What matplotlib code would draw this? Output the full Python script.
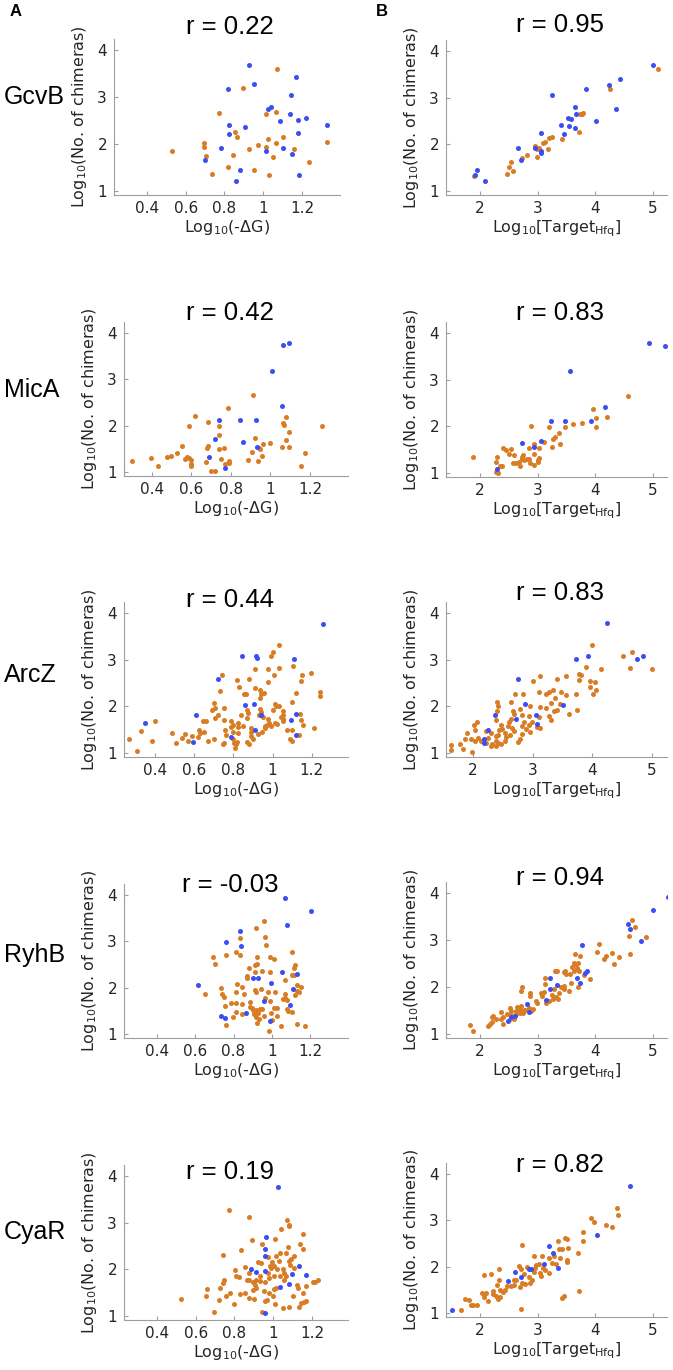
import numpy as np
import matplotlib
matplotlib.use('Agg')
import matplotlib.pyplot as plt

# ---- data ----
srnas = ['GcvB', 'MicA', 'ArcZ', 'RyhB', 'CyaR']
r_dg = ['0.22', '0.42', '0.44', '-0.03', '0.19']
r_hfq = ['0.95', '0.83', '0.83', '0.94', '0.82']

dg_ticks = [0.4, 0.6, 0.8, 1.0, 1.2]
dg_ticklabels = ['0.4', '0.6', '0.8', '1', '1.2']
hfq_ticks = [2, 3, 4, 5]
y_ticks = [1, 2, 3, 4]

gcvb_dg_blue = [(0.925, 3.69), (0.951, 3.27), (0.818, 3.18), (1.169, 3.43), (1.145, 3.05), (1.025, 2.75),
                (1.039, 2.79), (1.137, 2.64), (1.085, 2.50), (1.18, 2.52), (1.223, 2.56), (1.329, 2.40),
                (0.823, 2.41), (0.823, 2.21), (0.908, 2.36), (1.18, 2.23), (0.78, 1.91), (1.016, 1.84),
                (1.102, 1.91), (1.149, 1.79), (0.701, 1.66), (0.882, 1.45), (0.858, 1.20), (1.187, 1.33)]
gcvb_dg_orange = [(1.07, 3.61), (0.897, 3.19), (0.772, 2.66), (1.016, 2.64), (1.064, 2.68), (0.854, 2.26),
                  (0.866, 2.14), (1.104, 2.15), (1.025, 2.11), (1.066, 2.03), (1.329, 2.04), (0.696, 2.01),
                  (0.696, 1.93), (0.925, 1.89), (0.973, 1.97), (1.014, 1.94), (1.161, 1.90), (0.531, 1.84),
                  (0.842, 1.77), (1.049, 1.72), (0.705, 1.74), (1.235, 1.61), (0.817, 1.51), (0.951, 1.44),
                  (0.737, 1.36), (1.030, 1.33)]
gcvb_hfq_blue = [(4.99, 3.70), (4.42, 3.41), (4.24, 3.27), (3.83, 3.18), (4.36, 2.75), (3.24, 3.05),
                 (3.64, 2.79), (3.52, 2.56), (3.58, 2.54), (3.66, 2.64), (3.41, 2.42), (3.54, 2.40),
                 (3.65, 2.36), (4.01, 2.50), (3.06, 2.24), (3.46, 2.22), (2.65, 1.91), (2.96, 1.91),
                 (3.06, 1.81), (3.06, 1.86), (2.71, 1.67), (1.95, 1.45), (1.91, 1.34), (2.08, 1.21)]
gcvb_hfq_orange = [(5.08, 3.61), (4.25, 3.19), (3.72, 2.27), (3.73, 2.65), (3.76, 2.66), (3.79, 2.68),
                   (3.25, 2.15), (3.20, 2.14), (3.42, 2.11), (3.13, 2.04), (3.09, 2.02), (2.95, 1.97),
                   (3.03, 1.93), (2.99, 1.89), (3.17, 1.89), (2.99, 1.73), (2.81, 1.78), (2.73, 1.71),
                   (2.54, 1.61), (2.51, 1.51), (2.57, 1.43), (2.46, 1.36), (1.89, 1.32)]

mica_dg_blue = [(1.095, 3.78), (1.062, 3.74), (1.008, 3.19), (1.06, 2.42), (0.740, 2.12), (0.846, 2.12),
                (0.927, 2.13), (0.718, 1.70), (0.860, 1.65), (0.930, 1.54), (0.691, 1.32), (0.769, 1.09)]
mica_dg_orange = [(0.913, 2.66), (0.784, 2.39), (0.619, 2.20), (0.686, 2.08), (0.742, 1.99), (0.590, 1.99),
                  (1.077, 2.19), (1.062, 2.06), (1.07, 2.02), (1.26, 2.00), (1.092, 1.86), (0.920, 1.73),
                  (0.742, 1.79), (0.998, 1.62), (0.961, 1.60), (1.077, 1.68), (1.092, 1.54), (0.945, 1.50),
                  (0.942, 1.52), (0.686, 1.55), (0.678, 1.51), (0.767, 1.52), (0.738, 1.50), (0.553, 1.55),
                  (0.528, 1.40), (0.499, 1.35), (0.479, 1.32), (0.397, 1.29), (0.578, 1.33), (0.568, 1.27),
                  (0.589, 1.29), (0.600, 1.25), (0.597, 1.18), (0.599, 1.13), (0.299, 1.24), (0.434, 1.13),
                  (0.674, 1.21), (0.750, 1.27), (0.771, 1.17), (0.792, 1.23), (0.789, 1.19), (0.887, 1.26),
                  (0.907, 1.42), (0.935, 1.23), (0.957, 1.34), (1.057, 1.54), (0.698, 1.01), (0.720, 1.01),
                  (1.152, 1.13), (1.176, 1.40)]
mica_hfq_blue = [(4.92, 3.78), (5.21, 3.73), (3.56, 3.18), (4.16, 2.42), (3.23, 2.11), (3.47, 2.12),
                 (3.92, 2.11), (2.73, 1.64), (3.05, 1.68), (2.93, 1.56), (2.29, 1.09)]
mica_hfq_orange = [(4.57, 2.65), (3.96, 2.38), (4.01, 2.18), (4.20, 2.20), (4.01, 1.99), (3.77, 2.08),
                   (3.61, 2.05), (3.47, 1.98), (3.19, 1.98), (2.89, 2.01), (3.37, 1.86), (3.30, 1.78),
                   (3.27, 1.73), (3.39, 1.61), (3.24, 1.55), (3.10, 1.67), (3.02, 1.54), (2.94, 1.61),
                   (2.85, 1.53), (1.88, 1.34), (2.40, 1.53), (2.45, 1.50), (2.53, 1.51), (2.51, 1.40),
                   (2.59, 1.38), (2.29, 1.34), (2.28, 1.24), (2.38, 1.15), (2.34, 1.14), (2.31, 1.00),
                   (2.27, 1.01), (2.57, 1.21), (2.63, 1.21), (2.68, 1.24), (2.73, 1.34), (2.74, 1.39),
                   (2.77, 1.28), (2.70, 1.14), (2.72, 1.29), (2.81, 1.29), (2.87, 1.22), (2.84, 1.29),
                   (2.93, 1.17), (3.01, 1.27), (3.03, 1.32), (3.00, 1.24), (2.93, 1.41)]

arcz_dg_blue = [(1.256, 3.77), (0.846, 3.09), (0.917, 3.08), (0.919, 3.03), (1.111, 3.01), (0.720, 2.59),
                (0.860, 2.03), (0.907, 2.05), (0.941, 1.81), (1.120, 1.83), (1.094, 1.71), (0.611, 1.82),
                (0.351, 1.63), (0.912, 1.50), (1.118, 1.39), (0.790, 1.33), (0.596, 1.23)]
arcz_dg_orange = [(1.035, 3.32), (1.001, 3.17), (0.991, 3.08), (1.035, 2.83), (0.977, 2.81), (0.911, 2.79),
                  (1.106, 2.86), (1.009, 2.67), (1.195, 2.72), (1.151, 2.67), (1.144, 2.55), (0.882, 2.59),
                  (0.817, 2.56), (0.744, 2.68), (0.734, 2.32), (0.831, 2.41), (0.866, 2.26), (0.856, 2.27),
                  (0.911, 2.40), (0.936, 2.35), (0.940, 2.27), (0.936, 2.18), (0.958, 2.28), (0.975, 2.52),
                  (1.241, 2.31), (1.243, 2.21), (1.118, 2.28), (1.101, 2.10), (1.013, 2.05), (1.020, 2.00),
                  (1.033, 2.01), (1.052, 1.90), (1.052, 1.81), (1.042, 1.77), (1.055, 1.72), (1.054, 1.68),
                  (1.140, 1.84), (1.147, 1.70), (1.072, 1.50), (1.021, 1.62), (1.013, 1.64), (0.970, 1.60),
                  (0.962, 1.58), (0.936, 1.95), (0.941, 1.88), (0.931, 1.81), (0.868, 1.92), (0.875, 1.85),
                  (0.871, 1.74), (0.851, 1.57), (0.826, 1.55), (0.822, 1.65), (0.837, 1.82), (0.752, 1.96),
                  (0.701, 2.06), (0.706, 1.97), (0.693, 1.93), (0.722, 1.82), (0.659, 1.68), (0.647, 1.69),
                  (0.706, 1.75), (0.752, 1.70), (0.786, 1.69), (0.800, 1.60), (0.788, 1.55), (0.756, 1.50),
                  (0.800, 1.44), (0.822, 1.43), (0.761, 1.39), (0.798, 1.30), (0.820, 1.23), (0.803, 1.21),
                  (0.754, 1.21), (0.746, 1.18), (0.701, 1.30), (0.672, 1.26), (0.650, 1.44), (0.630, 1.43),
                  (0.626, 1.49), (0.621, 1.35), (0.589, 1.36), (0.570, 1.26), (0.553, 1.40), (0.538, 1.31),
                  (0.507, 1.22), (0.489, 1.43), (0.400, 1.68), (0.329, 1.46), (0.383, 1.26), (0.267, 1.30),
                  (0.310, 1.03), (0.809, 1.11), (0.814, 1.18), (0.868, 1.23), (0.882, 1.18), (0.889, 1.36),
                  (0.890, 1.44), (0.892, 1.54), (0.902, 1.30), (0.924, 1.41), (0.946, 1.45), (0.962, 1.53),
                  (0.982, 1.63), (0.992, 1.58), (0.950, 1.78), (0.979, 1.72), (1.089, 1.30), (1.098, 1.25),
                  (1.137, 1.38), (1.212, 1.54), (1.098, 1.50), (1.001, 1.92), (1.157, 1.60)]
arcz_hfq_blue = [(4.25, 3.78), (3.73, 3.01), (3.92, 3.09), (4.74, 3.02), (4.84, 3.07), (2.76, 2.59),
                 (3.50, 2.02), (2.87, 2.04), (2.37, 1.81), (3.06, 1.81), (3.08, 1.62), (2.72, 1.72),
                 (2.25, 1.49), (2.18, 1.30), (2.18, 1.21)]
arcz_hfq_orange = [(3.99, 3.32), (4.51, 3.09), (4.66, 3.16), (4.63, 2.82), (5.00, 2.81), (4.15, 2.79),
                   (3.89, 2.85), (3.78, 2.70), (3.81, 2.68), (3.77, 2.57), (3.96, 2.55), (4.05, 2.52),
                   (3.96, 2.41), (4.06, 2.34), (4.01, 2.27), (3.72, 2.27), (3.75, 1.91), (3.61, 1.84),
                   (3.56, 2.66), (3.41, 2.59), (3.12, 2.66), (3.01, 2.54), (3.10, 2.31), (3.22, 2.27),
                   (3.27, 2.31), (3.34, 2.36), (3.37, 2.18), (3.47, 2.31), (3.55, 2.25), (3.41, 1.91),
                   (3.35, 1.89), (3.12, 1.99), (3.28, 1.79), (3.31, 1.71), (3.10, 1.77), (3.08, 1.55),
                   (3.12, 1.53), (2.96, 1.45), (2.93, 1.79), (2.99, 1.66), (2.85, 1.66), (2.82, 1.57),
                   (2.89, 1.52), (2.93, 1.59), (2.95, 2.00), (2.78, 1.95), (2.82, 1.82), (2.83, 2.26),
                   (2.70, 2.27), (2.64, 2.09), (2.67, 1.89), (2.69, 1.84), (2.63, 1.73), (2.60, 1.66),
                   (2.58, 1.57), (2.65, 1.54), (2.68, 1.46), (2.82, 1.41), (2.78, 1.29), (2.76, 1.23),
                   (2.62, 1.39), (2.56, 1.34), (2.53, 1.43), (2.49, 1.51), (2.47, 1.59), (2.42, 2.00),
                   (2.41, 2.09), (2.40, 1.89), (2.39, 1.71), (2.44, 1.49), (2.42, 1.38), (2.39, 1.36),
                   (2.38, 1.25), (2.42, 1.21), (2.32, 1.20), (2.30, 1.14), (2.39, 1.14), (2.47, 1.18),
                   (2.54, 1.25), (2.25, 1.32), (2.22, 1.21), (2.14, 1.26), (2.08, 1.32), (2.03, 1.25),
                   (1.97, 1.29), (2.02, 1.59), (2.07, 1.66), (2.04, 1.48), (1.90, 1.43), (1.87, 1.29),
                   (1.78, 1.18), (1.84, 1.09), (1.64, 1.16), (1.64, 1.07), (1.99, 1.01), (2.31, 1.43),
                   (2.21, 1.46), (3.31, 2.07), (3.46, 2.04), (3.23, 1.96)]

ryhb_dg_blue = [(1.070, 3.93), (1.203, 3.65), (1.082, 3.36), (0.835, 3.23), (0.762, 2.99), (0.837, 2.89),
                (1.054, 2.34), (1.130, 2.30), (0.904, 2.20), (0.927, 2.20), (0.997, 2.09), (0.616, 2.06),
                (1.110, 1.98), (0.962, 1.71), (1.096, 1.63), (0.866, 1.46), (0.737, 1.38), (0.758, 1.35),
                (0.991, 1.27)]
ryhb_dg_orange = [(0.962, 3.43), (0.918, 3.28), (0.967, 3.09), (0.833, 3.07), (0.969, 2.92), (0.814, 2.76),
                  (0.835, 2.71), (0.760, 2.71), (0.692, 2.67), (0.701, 2.50), (0.925, 2.66), (0.991, 2.66),
                  (1.012, 2.61), (1.106, 2.76), (1.123, 2.48), (1.117, 2.42), (0.922, 2.52), (0.915, 2.49),
                  (0.880, 2.42), (0.871, 2.24), (0.868, 2.20), (0.951, 2.35), (0.913, 2.34), (0.990, 2.34),
                  (1.104, 2.27), (1.117, 2.27), (1.070, 2.16), (0.816, 2.07), (0.845, 2.02), (0.734, 2.00),
                  (0.741, 1.87), (0.748, 1.80), (0.814, 1.91), (0.857, 1.87), (0.911, 1.94), (0.918, 1.91),
                  (0.983, 1.91), (1.017, 1.91), (1.130, 2.06), (1.151, 2.01), (1.143, 1.91), (1.120, 1.83),
                  (1.130, 1.93), (1.068, 1.87), (1.071, 1.77), (1.057, 1.76), (1.082, 1.74), (0.965, 1.77),
                  (0.991, 1.71), (1.012, 1.56), (1.030, 1.56), (0.995, 1.44), (1.026, 1.38), (1.003, 1.30),
                  (0.984, 1.06), (1.049, 1.16), (1.130, 1.22), (1.176, 1.18), (1.085, 1.49), (1.108, 1.47),
                  (1.082, 1.54), (0.885, 1.69), (0.885, 1.58), (0.847, 1.64), (0.812, 1.66), (0.788, 1.67),
                  (0.758, 1.60), (0.814, 1.48), (0.847, 1.43), (0.897, 1.56), (0.901, 1.52), (0.918, 1.51),
                  (0.905, 1.42), (0.927, 1.46), (0.941, 1.54), (0.951, 1.53), (0.918, 1.36), (0.932, 1.33),
                  (0.923, 1.23), (0.962, 1.38), (0.798, 1.36), (0.763, 1.19), (0.649, 1.87), (0.943, 1.96)]
ryhb_hfq_blue = [(5.25, 3.92), (5.00, 3.64), (4.57, 3.35), (4.60, 3.23), (4.79, 2.98), (3.76, 2.89),
                 (3.85, 2.33), (3.82, 2.29), (3.68, 2.20), (3.73, 2.09), (3.22, 2.20), (3.33, 2.05),
                 (3.21, 1.96), (3.14, 1.72), (2.81, 1.63), (2.84, 1.47), (2.61, 1.38), (2.48, 1.27),
                 (2.54, 1.36)]
ryhb_hfq_orange = [(4.64, 3.42), (4.69, 3.27), (4.59, 3.08), (4.87, 3.06), (4.60, 2.71), (4.07, 2.91),
                   (4.03, 2.75), (4.18, 2.67), (4.15, 2.60), (4.29, 2.73), (4.32, 2.50), (4.40, 2.64),
                   (3.64, 2.71), (3.74, 2.65), (3.70, 2.52), (3.65, 2.48), (3.62, 2.52), (3.68, 2.41),
                   (3.71, 2.35), (3.60, 2.43), (3.62, 2.34), (3.48, 2.34), (3.49, 2.27), (3.56, 2.27),
                   (3.45, 2.32), (3.30, 2.33), (3.33, 2.35), (3.81, 2.25), (3.90, 2.16), (3.69, 2.00),
                   (3.58, 2.08), (3.45, 2.02), (3.40, 2.00), (3.46, 1.96), (3.55, 1.91), (3.37, 1.88),
                   (3.28, 1.95), (3.35, 1.75), (3.31, 1.78), (3.25, 1.83), (3.13, 2.19), (3.12, 2.07),
                   (3.10, 1.90), (3.06, 1.86), (3.08, 1.81), (3.15, 1.66), (3.20, 1.70), (3.27, 1.74),
                   (2.97, 1.70), (2.99, 1.66), (2.87, 1.81), (2.86, 1.86), (2.72, 2.00), (2.71, 1.91),
                   (2.92, 1.52), (2.89, 1.48), (2.84, 1.54), (2.77, 1.51), (2.70, 1.51), (2.70, 1.45),
                   (2.75, 1.45), (2.78, 1.51), (2.71, 1.59), (2.64, 1.57), (2.62, 1.48), (2.52, 1.56),
                   (2.53, 1.48), (2.63, 1.42), (2.47, 1.43), (2.53, 1.41), (2.52, 1.32), (2.58, 1.32),
                   (2.39, 1.36), (2.36, 1.46), (2.36, 1.32), (2.23, 1.38), (2.27, 1.32), (2.20, 1.36),
                   (2.21, 1.26), (2.17, 1.20), (2.14, 1.16), (2.39, 1.21), (1.82, 1.19), (1.87, 1.06)]

cyar_dg_blue = [(1.023, 3.76), (0.963, 2.69), (0.959, 2.44), (0.959, 2.29), (1.131, 2.06), (0.887, 2.00),
                (0.911, 1.94), (0.956, 1.97), (1.099, 1.90), (1.171, 1.88), (1.083, 1.69), (1.037, 1.62),
                (0.958, 1.07)]
cyar_dg_orange = [(0.770, 3.28), (0.873, 3.12), (1.071, 3.05), (1.083, 2.96), (1.083, 2.92), (1.042, 2.87),
                  (1.154, 2.75), (0.891, 2.62), (1.008, 2.64), (0.942, 2.55), (1.075, 2.47), (1.140, 2.55),
                  (1.152, 2.44), (1.033, 2.36), (1.068, 2.36), (0.741, 2.30), (0.834, 2.42), (0.973, 2.26),
                  (0.994, 2.16), (0.982, 2.08), (0.922, 2.16), (0.937, 2.13), (1.094, 2.23), (1.085, 2.10),
                  (1.083, 2.18), (1.106, 2.02), (1.006, 2.06), (0.990, 2.03), (1.020, 2.00), (1.032, 2.17),
                  (1.016, 2.28), (0.804, 1.99), (0.809, 1.85), (0.822, 1.83), (0.856, 2.05), (0.873, 1.92),
                  (0.875, 1.78), (0.865, 1.76), (0.894, 1.72), (0.908, 1.67), (0.913, 1.78), (0.930, 1.85),
                  (0.934, 1.74), (0.959, 1.72), (0.977, 1.81), (0.973, 1.92), (1.002, 1.85), (1.002, 1.58),
                  (1.016, 1.60), (1.033, 1.85), (1.054, 1.78), (1.057, 1.92), (1.068, 1.86), (1.049, 2.01),
                  (1.121, 1.67), (1.130, 1.59), (1.153, 1.49), (1.170, 1.63), (1.204, 1.72), (1.232, 1.76),
                  (1.214, 1.73), (1.161, 1.29), (1.144, 1.27), (1.131, 1.20), (1.169, 1.31), (1.082, 1.20),
                  (1.051, 1.16), (1.011, 1.25), (0.999, 1.42), (0.968, 1.34), (0.959, 1.31), (0.942, 1.09),
                  (0.899, 1.36), (0.873, 1.39), (0.856, 1.49), (0.827, 1.47), (0.796, 1.25), (0.775, 1.49),
                  (0.758, 1.42), (0.727, 1.60), (0.720, 1.35), (0.693, 1.08), (0.655, 1.42), (0.658, 1.58),
                  (0.526, 1.36), (0.744, 1.78), (0.741, 1.70), (0.894, 1.55), (0.913, 1.59), (0.951, 1.53),
                  (0.980, 1.48), (1.102, 1.42), (1.106, 2.28)]
cyar_hfq_blue = [(4.60, 3.75), (4.03, 2.68), (3.20, 2.44), (3.26, 2.29), (3.35, 1.98), (3.11, 2.06),
                 (2.84, 1.95), (2.89, 1.94), (2.60, 1.88), (2.71, 1.78), (2.49, 1.68), (1.52, 1.06)]
cyar_hfq_orange = [(4.38, 3.27), (4.39, 3.12), (3.93, 3.05), (3.97, 2.96), (4.18, 2.91), (4.28, 2.86),
                   (3.78, 2.74), (3.79, 2.55), (3.48, 2.62), (3.51, 2.60), (3.35, 2.56), (3.53, 2.41),
                   (3.69, 2.29), (3.42, 2.37), (3.36, 2.38), (3.28, 2.22), (3.38, 2.19), (3.51, 2.15),
                   (3.51, 2.09), (3.20, 2.19), (3.07, 2.22), (3.02, 2.06), (2.93, 2.22), (2.97, 2.04),
                   (3.09, 1.97), (3.13, 1.92), (3.25, 2.08), (3.32, 2.05), (3.19, 1.86), (3.06, 1.79),
                   (3.04, 1.86), (2.93, 1.88), (2.96, 1.97), (2.81, 1.99), (2.73, 2.46), (2.71, 1.94),
                   (2.67, 2.01), (2.77, 1.85), (2.85, 1.78), (2.90, 1.72), (2.87, 1.65), (2.78, 1.63),
                   (2.73, 1.65), (2.70, 1.55), (2.62, 1.70), (2.58, 1.61), (2.53, 1.58), (2.46, 1.58),
                   (2.44, 1.50), (2.39, 1.45), (2.35, 1.50), (2.33, 1.71), (2.30, 1.61), (2.33, 1.95),
                   (2.19, 1.84), (2.06, 1.81), (2.10, 1.43), (2.03, 1.42), (2.07, 1.34), (2.13, 1.25),
                   (2.23, 1.40), (2.28, 1.36), (2.35, 1.35), (2.31, 1.29), (2.22, 1.48), (1.94, 1.18),
                   (1.88, 1.18), (1.84, 1.16), (1.80, 1.27), (1.74, 1.29), (1.67, 1.06), (2.71, 1.09),
                   (3.71, 1.48), (3.46, 1.36), (3.42, 1.32), (2.58, 1.72)]

dg_data = [(gcvb_dg_orange, gcvb_dg_blue), (mica_dg_orange, mica_dg_blue), (arcz_dg_orange, arcz_dg_blue),
           (ryhb_dg_orange, ryhb_dg_blue), (cyar_dg_orange, cyar_dg_blue)]
hfq_data = [(gcvb_hfq_orange, gcvb_hfq_blue), (mica_hfq_orange, mica_hfq_blue), (arcz_hfq_orange, arcz_hfq_blue),
            (ryhb_hfq_orange, ryhb_hfq_blue), (cyar_hfq_orange, cyar_hfq_blue)]

# ---- layout (pixel boxes: x0, x1, top, bottom) ----
W, H = 673, 1370
ORANGE = '#D97D24'
BLUE = '#3B4EF2'
TXT = '#262626'
SPINE = '#9E9E9E'

left_boxes = [(114, 340, 39, 195), (124, 348, 322, 476), (124, 348, 602, 757),
              (124, 348, 884, 1038), (124, 348, 1165, 1320)]
right_boxes = [(446, 667, 40, 195), (446, 667, 322, 477), (446, 667, 602, 757),
               (446, 667, 882, 1038), (446, 667, 1163, 1317)]
left_xlims = [(0.230, 1.396), (0.26, 1.392), (0.242, 1.385), (0.227, 1.399), (0.230, 1.386)]
right_xlims = [(1.41, 5.24), (1.41, 5.24), (1.548, 5.25), (1.41, 5.24), (1.41, 5.24)]
YLIM = (0.91, 4.24)

left_title_y = [27, 313, 600, 885, 1172]
right_title_y = [25, 313, 593, 878, 1165]
row_label_y = [97, 390, 675, 955, 1232]

fig = plt.figure(figsize=(W / 100, H / 100), dpi=100)


def make_ax(box):
    x0, x1, top, bot = box
    return fig.add_axes([x0 / W, 1 - bot / H, (x1 - x0) / W, (bot - top) / H])


def style_ax(ax, box):
    for s in ['top', 'right']:
        ax.spines[s].set_visible(False)
    for s in ['left', 'bottom']:
        ax.spines[s].set_color(SPINE)
        ax.spines[s].set_linewidth(0.8)
    ax.tick_params(direction='in', length=3, width=0.8, color=SPINE,
                   labelcolor=TXT, labelsize=11)
    ax.tick_params(axis='x', pad=4)
    ax.tick_params(axis='y', pad=5)
    ax.set_ylim(*YLIM)
    ax.set_yticks(y_ticks)
    ax.set_ylabel(r'Log$_{10}$(No. of chimeras)', fontsize=11.5, color=TXT)
    wpx = box[1] - box[0]
    hpx = box[3] - box[2]
    ax.yaxis.set_label_coords(-25 / wpx, 0.5)
    ax.xaxis.set_label_coords(0.5, -23 / hpx)
    ax.patch.set_alpha(0)


def scatter_pts(ax, orange, blue):
    o = np.array(orange)
    b = np.array(blue)
    ax.scatter(o[:, 0], o[:, 1], s=13, color=ORANGE, linewidths=0, zorder=3)
    ax.scatter(b[:, 0], b[:, 1], s=13, color=BLUE, linewidths=0, zorder=4)


for i in range(5):
    ax = make_ax(left_boxes[i])
    scatter_pts(ax, *dg_data[i])
    ax.set_xlim(*left_xlims[i])
    ax.set_xticks(dg_ticks)
    ax.set_xticklabels(dg_ticklabels)
    style_ax(ax, left_boxes[i])
    ax.set_xlabel(r'Log$_{10}$(-ΔG)', fontsize=11.5, color=TXT)

    ax2 = make_ax(right_boxes[i])
    scatter_pts(ax2, *hfq_data[i])
    ax2.set_xlim(*right_xlims[i])
    ax2.set_xticks(hfq_ticks)
    style_ax(ax2, right_boxes[i])
    ax2.set_xlabel(r'Log$_{10}$[Target$_{\mathrm{Hfq}}$]', fontsize=11.5, color=TXT)

    fig.text(230 / W, 1 - left_title_y[i] / H, 'r = ' + r_dg[i], ha='center', va='center',
             fontsize=18.5, family='Liberation Sans', color='black')
    fig.text(560 / W, 1 - right_title_y[i] / H, 'r = ' + r_hfq[i], ha='center', va='center',
             fontsize=18.5, family='Liberation Sans', color='black')
    fig.text(4 / W, 1 - row_label_y[i] / H, srnas[i], ha='left', va='center',
             fontsize=18, family='Liberation Sans', color='black')

fig.text(10 / W, 1 - 11 / H, 'A', ha='left', va='center', fontsize=12, fontweight='bold',
         family='Liberation Sans')
fig.text(376 / W, 1 - 11 / H, 'B', ha='left', va='center', fontsize=12, fontweight='bold',
         family='Liberation Sans')

fig.savefig('out.png', dpi=100, facecolor='white')
